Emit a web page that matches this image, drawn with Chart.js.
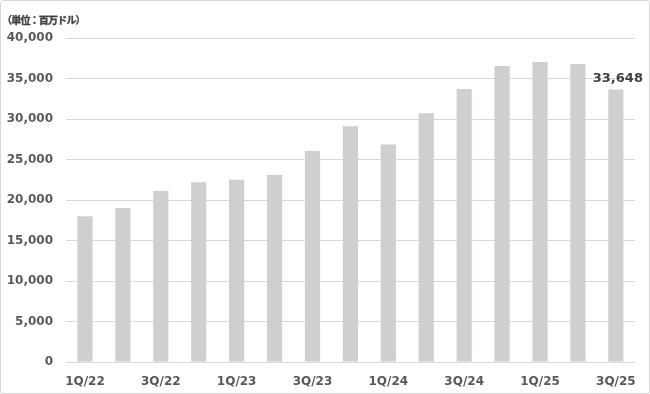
<!DOCTYPE html>
<html>
<head>
<meta charset="utf-8">
<script src="https://cdn.jsdelivr.net/npm/chart.js@4/dist/chart.umd.min.js"></script>
<style>
  html, body { margin: 0; padding: 0; background: #fff; }
  #wrap {
    position: relative;
    width: 650px; height: 394px;
    box-sizing: border-box;
    border: 1px solid #d9d9d9;
    border-radius: 3px;
    overflow: hidden;
  }
  #unit {
    position: absolute; left: 1px; top: 13px;
    font: bold 10px "Noto Sans CJK JP", sans-serif;
    line-height: 12px;
    letter-spacing: -0.8px;
    color: #404040;
    -webkit-text-stroke: 0.35px #404040;
  }
  canvas { display: block; }
</style>
</head>
<body>
<div id="wrap">
  <div id="unit">（単位：百万ドル）</div>
  <canvas id="revChart" width="648" height="392"></canvas>
</div>
<script>
// Quarterly values, millions of USD
const quarters = ["1Q/22", "2Q/22", "3Q/22", "4Q/22", "1Q/23", "2Q/23", "3Q/23", "4Q/23",
                  "1Q/24", "2Q/24", "3Q/24", "4Q/24", "1Q/25", "2Q/25", "3Q/25"];
const revenue = [18000, 19000, 21100, 22200, 22500, 23100, 26050, 29100,
                 26850, 30700, 33700, 36550, 37050, 36800, 33648];
const yTicks = [0, 5000, 10000, 15000, 20000, 25000, 30000, 35000, 40000];

const labelColor = "#595959";
const tickFont = { family: "DejaVu Sans", size: 12, weight: "bold" };

// Only the latest quarter carries a value label
const lastLabel = {
  id: "lastLabel",
  afterDatasetsDraw(chart) {
    const meta = chart.getDatasetMeta(0);
    const i = revenue.length - 1;
    const bar = meta.data[i];
    const ctx = chart.ctx;
    ctx.save();
    ctx.font = "bold 13px 'DejaVu Sans'";
    ctx.fillStyle = "#404040";
    ctx.textAlign = "center";
    ctx.textBaseline = "bottom";
    ctx.fillText(revenue[i].toLocaleString("en-US"), bar.x + 2, bar.y - 4);
    ctx.restore();
  }
};

new Chart(document.getElementById("revChart").getContext("2d"), {
  type: "bar",
  data: {
    labels: quarters,
    datasets: [{
      data: revenue,
      backgroundColor: "#d0cece",
      barPercentage: 0.4,
      categoryPercentage: 1.0
    }]
  },
  options: {
    responsive: false,
    animation: false,
    layout: { padding: { top: 37, right: 10, bottom: 0, left: 0 } },
    plugins: { legend: { display: false }, tooltip: { enabled: false } },
    scales: {
      x: {
        grid: { display: false, drawTicks: false },
        border: { display: false },
        afterFit(scale) { scale.height = 31; },
        ticks: {
          autoSkip: false,
          maxRotation: 0,
          padding: 13,
          color: labelColor,
          font: tickFont,
          callback: (v, i) => (i % 2 === 0 ? quarters[i] : "")
        }
      },
      y: {
        min: 0,
        max: 40000,
        afterBuildTicks(scale) { scale.ticks = yTicks.map(v => ({ value: v })); },
        afterFit(scale) { scale.width = 65; },
        grid: { color: "#d9d9d9", drawTicks: false },
        border: { display: false },
        ticks: {
          padding: 13,
          color: labelColor,
          font: tickFont,
          callback: v => v.toLocaleString("en-US")
        }
      }
    }
  },
  plugins: [lastLabel]
});
</script>
</body>
</html>
